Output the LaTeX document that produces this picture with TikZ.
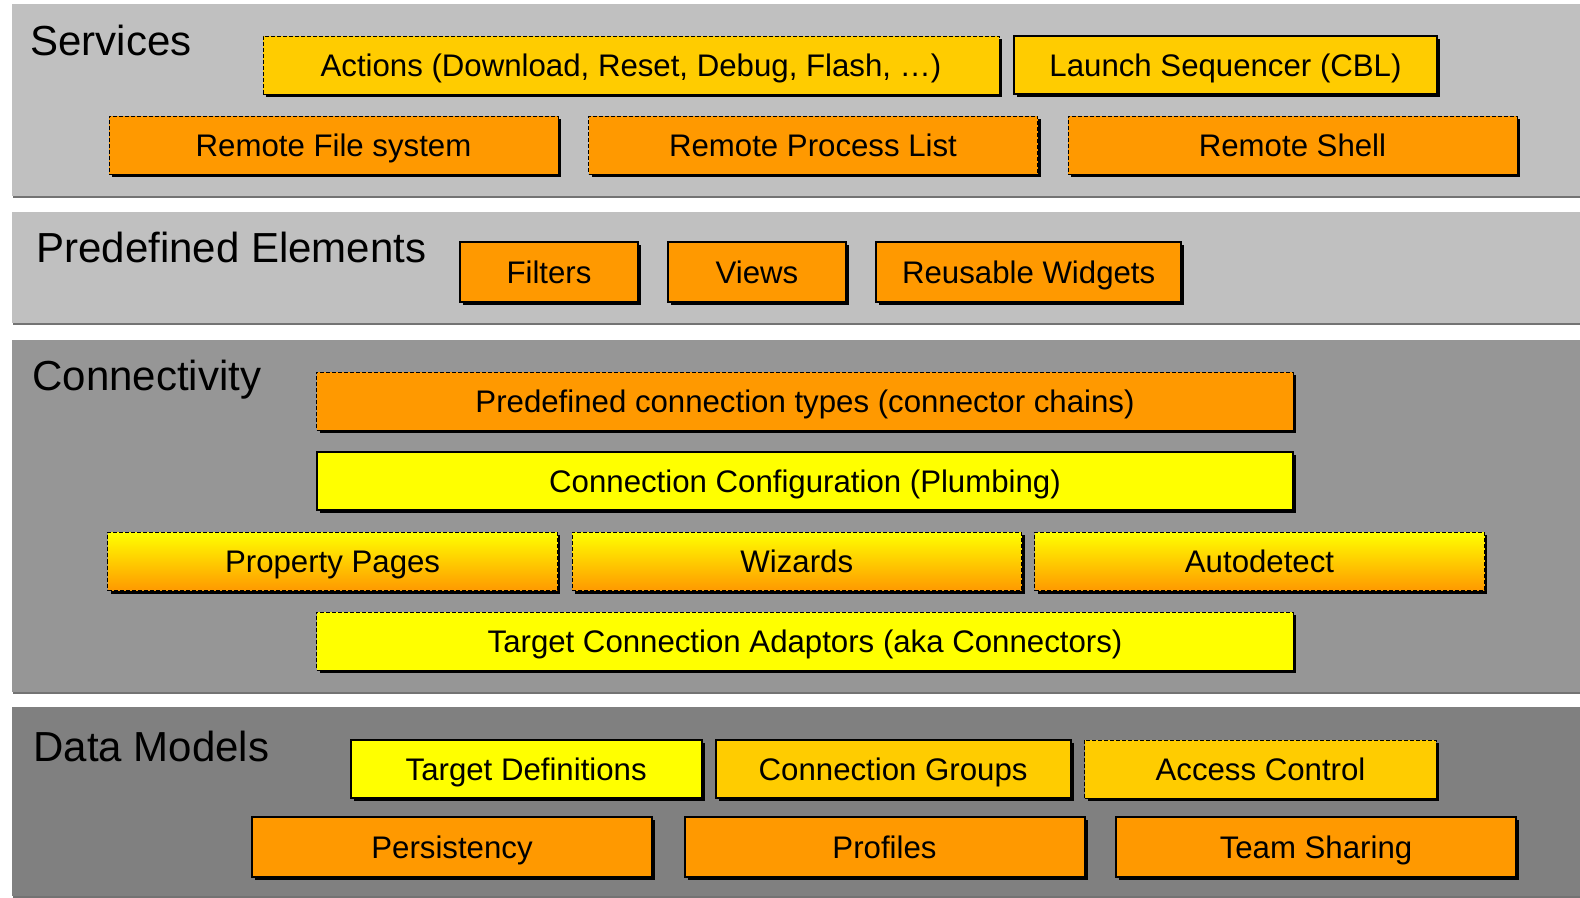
\documentclass[tikz,border=0pt]{standalone}
\usepackage{fontspec}
\setmainfont{Liberation Sans}
\usetikzlibrary{shadows}
\definecolor{panelA}{HTML}{C0C0C0}
\definecolor{panelB}{HTML}{969696}
\definecolor{panelC}{HTML}{808080}
\definecolor{gold}{HTML}{FFCC00}
\definecolor{orangebox}{HTML}{FF9900}
\definecolor{yellowbox}{HTML}{FFFF00}
\begin{document}
\begin{tikzpicture}[x=0.5pt, y=-0.5pt,
    panel/.style={fill=#1, drop shadow={shadow xshift=0.5pt, shadow yshift=-1.2pt, fill=black!55, opacity=1}},
    box/.style={minimum height=29pt, inner sep=0pt, text height=11.2pt, text depth=0pt,
        font=\fontsize{15.6}{18}\selectfont,
        drop shadow={shadow xshift=1.5pt, shadow yshift=-1.5pt, fill=black, opacity=1}},
    dashbox/.style={box, draw, line width=0.4pt, dash pattern=on 2pt off 1pt},
    solidbox/.style={box, draw, line width=1pt},
    fadebox/.style={dashbox, top color=yellowbox, bottom color=orangebox},
    title/.style={anchor=base west, inner sep=0pt, font=\fontsize{21}{25}\selectfont}]
  \useasboundingbox (0,0) rectangle (1580,898);
  % layers
  \path[panel=panelA] (12,4) rectangle (1580,196);
  \path[panel=panelA] (12,212) rectangle (1580,323);
  \path[panel=panelB] (12,340) rectangle (1580,692);
  \path[panel=panelC] (12,707) rectangle (1580,896);
  \node[title] (services) at (30,56) {Services};
  \node[title] (predef) at (36,263) {Predefined Elements};
  \node[title] (connect) at (32,391) {Connectivity};
  \node[title] (models) at (33,761) {Data Models};
  % services
  \node[dashbox, fill=gold, minimum width=368pt] (actions) at (631,65) {Actions (Download, Reset, Debug, Flash, \dots)};
  \node[solidbox, fill=gold, minimum width=211.5pt] (launch) at (1225.5,65) {Launch Sequencer (CBL)};
  \node[dashbox, fill=orangebox, minimum width=224.5pt] (rfs) at (333.5,145) {Remote File system};
  \node[dashbox, fill=orangebox, minimum width=224.5pt] (rpl) at (813,145) {Remote Process List};
  \node[dashbox, fill=orangebox, minimum width=224.5pt] (rsh) at (1292.5,145) {Remote Shell};
  % predefined elements
  \node[solidbox, fill=orangebox, minimum width=89pt, minimum height=30pt] (filters) at (549,272) {Filters};
  \node[solidbox, fill=orangebox, minimum width=88.7pt, minimum height=30pt] (views) at (757,272) {Views};
  \node[solidbox, fill=orangebox, minimum width=152.7pt, minimum height=30pt] (widgets) at (1028.7,272) {Reusable Widgets};
  % connectivity
  \node[dashbox, fill=orangebox, minimum width=488.4pt] (types) at (805,401) {Predefined connection types (connector chains)};
  \node[solidbox, fill=yellowbox, minimum width=488.4pt] (config) at (805,481) {Connection Configuration (Plumbing)};
  \node[fadebox, minimum width=224.75pt] (pages) at (332.6,561.5) {Property Pages};
  \node[fadebox, minimum width=224.75pt] (wizards) at (796.8,561.5) {Wizards};
  \node[fadebox, minimum width=224.75pt] (autodetect) at (1259.5,561.5) {Autodetect};
  \node[dashbox, fill=yellowbox, minimum width=488.4pt] (adaptors) at (805,641) {Target Connection Adaptors (aka Connectors)};
  % data models
  \node[solidbox, fill=yellowbox, minimum width=175.4pt] (targets) at (526.2,769) {Target Definitions};
  \node[solidbox, fill=gold, minimum width=177.4pt] (groups) at (893.1,769) {Connection Groups};
  \node[dashbox, fill=gold, minimum width=175.9pt] (access) at (1260.5,769) {Access Control};
  \node[solidbox, fill=orangebox, minimum width=200pt, minimum height=30pt] (persist) at (452,847) {Persistency};
  \node[solidbox, fill=orangebox, minimum width=200pt, minimum height=30pt] (profiles) at (884.5,847) {Profiles};
  \node[solidbox, fill=orangebox, minimum width=200pt, minimum height=30pt] (sharing) at (1316,847) {Team Sharing};
\end{tikzpicture}
\end{document}
